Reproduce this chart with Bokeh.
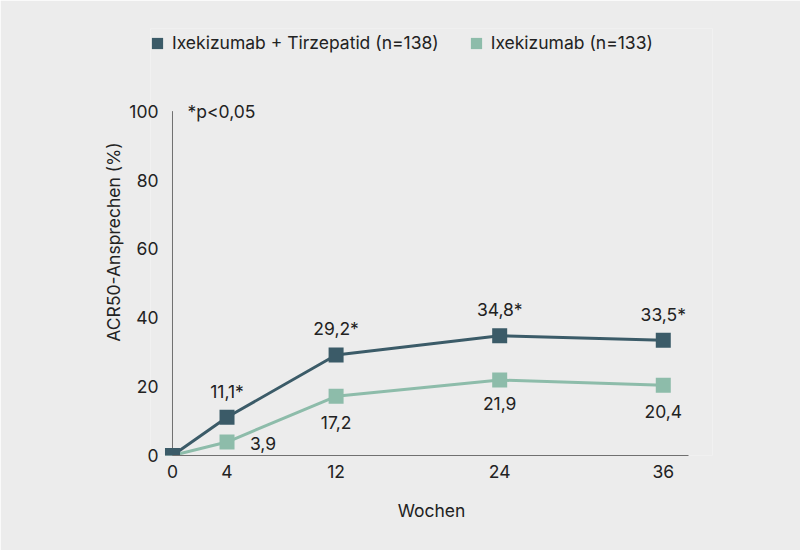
from bokeh.plotting import figure
from bokeh.models import Legend, LegendItem, Label, FixedTicker, ColumnDataSource
from bokeh.core.properties import value
from bokeh.embed import file_html
from bokeh.resources import INLINE

weeks = [0, 4, 12, 24, 36]
combo = [0, 11.1, 29.2, 34.8, 33.5]
mono = [0, 3.9, 17.2, 21.9, 20.4]
combo_labels = ["", "11,1*", "29,2*", "34,8*", "33,5*"]
mono_labels = ["", "3,9", "17,2", "21,9", "20,4"]
y_ticks = [0, 20, 40, 60, 80, 100]

DARK = "#3b5b68"
LIGHT = "#8dbcaa"
BG = "#ececec"
AXIS = "#707070"
FONT = "Inter"
FS = "17.5px"
TXT = "#222222"

p = figure(width=800, height=550, output_backend="svg", toolbar_location=None,
           x_range=(-1.613, 39.61), y_range=(0, 124),
           min_border_left=150, min_border_right=88, min_border_top=28, min_border_bottom=95)
p.background_fill_color = BG
p.border_fill_color = BG
p.outline_line_color = None
p.grid.visible = False

# y axis line at week 0, from lowest to highest tick
p.segment(x0=weeks[:1], y0=y_ticks[:1], x1=weeks[:1], y1=y_ticks[-1:], line_color=AXIS, line_width=1)

r_dark_line = p.line(weeks, combo, line_color=DARK, line_width=3)
r_light_line = p.line(weeks, mono, line_color=LIGHT, line_width=3)
r_light = p.scatter(weeks, mono, marker="square", size=15, fill_color=LIGHT, line_color=None)
r_dark = p.scatter(weeks, combo, marker="square", size=15, fill_color=DARK, line_color=None)

# legend swatches (zero-size quads at the first point, used only for the legend)
leg_dark = p.quad(left=weeks[:1], right=weeks[:1], top=combo[:1], bottom=combo[:1],
                  fill_color=DARK, line_color=None)
leg_light = p.quad(left=weeks[:1], right=weeks[:1], top=mono[:1], bottom=mono[:1],
                   fill_color=LIGHT, line_color=None)

src_c = ColumnDataSource(dict(x=weeks[1:], y=combo[1:], t=combo_labels[1:]))
p.text(x="x", y="y", text="t", source=src_c, text_align="center", text_baseline="middle",
       y_offset=-26, text_font=value(FONT), text_font_size=FS, text_color=TXT)
src_m = ColumnDataSource(dict(x=weeks[1:], y=mono[1:], t=mono_labels[1:],
                              xo=[36, 0, 0, 0], yo=[1, 26, 23, 26]))
p.text(x="x", y="y", text="t", source=src_m, text_align="center", text_baseline="middle",
       x_offset="xo", y_offset="yo", text_font=value(FONT), text_font_size=FS, text_color=TXT)

p.add_layout(Label(x=1.1, y=100, text="*p<0,05", text_baseline="middle", text_font=FONT,
                   text_font_size=FS, text_color=TXT))

for ax in (p.xaxis[0], p.yaxis[0]):
    ax.axis_line_color = AXIS
    ax.axis_line_width = 1
    ax.major_tick_line_color = None
    ax.minor_tick_line_color = None
    ax.major_label_text_font = FONT
    ax.major_label_text_font_size = FS
    ax.major_label_text_color = TXT
    ax.axis_label_text_font = FONT
    ax.axis_label_text_font_size = FS
    ax.axis_label_text_font_style = "normal"
    ax.axis_label_text_color = TXT

p.yaxis.axis_line_color = None
p.xaxis.bounds = (0, 37.85)
p.xaxis.ticker = FixedTicker(ticks=weeks)
p.yaxis.ticker = FixedTicker(ticks=y_ticks)
p.xaxis.axis_label = "Wochen"
p.yaxis.axis_label = "ACR50-Ansprechen (%)"
p.xaxis.major_label_standoff = 3
p.yaxis.major_label_standoff = 8 - 22
p.xaxis.axis_label_standoff = 19
p.yaxis.axis_label_standoff = 2

legend = Legend(items=[
    LegendItem(label="Ixekizumab + Tirzepatid (n=138)", renderers=[leg_dark]),
    LegendItem(label="Ixekizumab (n=133)", renderers=[leg_light]),
], orientation="horizontal", location=(0, 402))
legend.background_fill_alpha = 0
legend.border_line_color = None
legend.label_text_font = FONT
legend.label_text_font_size = FS
legend.label_text_color = TXT
legend.glyph_width = 14
legend.glyph_height = 14
legend.label_standoff = 8
legend.spacing = 30
legend.padding = 0
legend.margin = 0
p.add_layout(legend, "center")

open("out.html", "w").write(file_html(p, INLINE))
